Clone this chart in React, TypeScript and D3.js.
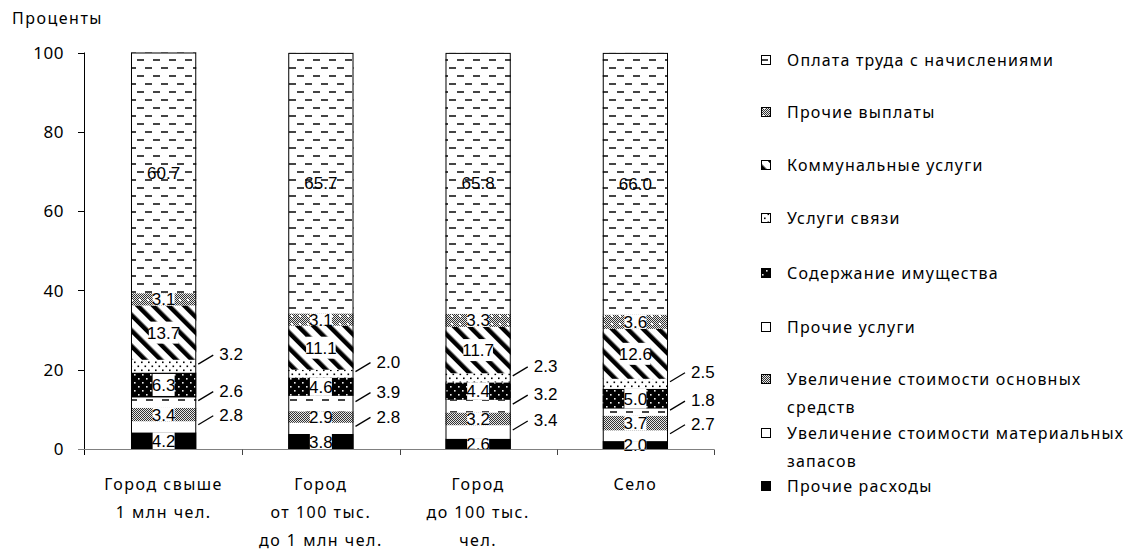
import React from "react";
import * as d3 from "d3";

const categories = ["c1", "c2", "c3", "c4"];
const categoryLines: string[][] = [
  ["Город свыше", "1 млн чел."],
  ["Город", "от 100 тыс.", "до 1 млн чел."],
  ["Город", "до 100 тыс.", "чел."],
  ["Село"],
];

// bottom to top
const seriesKeys = ["other", "materials", "fixed", "otherServ", "property", "comm", "utilities", "otherPay", "pay"];
const otherExp = [4.2, 3.8, 2.6, 2.0];
const materials = [2.8, 2.8, 3.4, 2.7];
const fixedAssets = [3.4, 2.9, 3.2, 3.7];
const otherServices = [2.6, 3.9, 3.2, 1.8];
const property = [6.3, 4.6, 4.4, 5.0];
const communication = [3.2, 2.0, 2.3, 2.5];
const utilities = [13.7, 11.1, 11.7, 12.6];
const otherPayments = [3.1, 3.1, 3.3, 3.6];
const wages = [60.7, 65.7, 65.8, 66.0];
const seriesValues = [otherExp, materials, fixedAssets, otherServices, property, communication, utilities, otherPayments, wages];

const legendOrder = ["pay", "otherPay", "utilities", "comm", "property", "otherServ", "fixed", "materials", "other"];
const legendLabels: Record<string, string[]> = {
  pay: ["Оплата труда с начислениями"],
  otherPay: ["Прочие выплаты"],
  utilities: ["Коммунальные услуги"],
  comm: ["Услуги связи"],
  property: ["Содержание имущества"],
  otherServ: ["Прочие услуги"],
  fixed: ["Увеличение стоимости основных", "средств"],
  materials: ["Увеличение стоимости материальных", "запасов"],
  other: ["Прочие расходы"],
};
const legendY = [60, 112, 165, 218, 273, 327, 379, 433, 486];

const yTicks = [0, 20, 40, 60, 80, 100];
const outsideKeys = ["materials", "otherServ", "comm"];
const noBoxKeys = ["pay"];

const W = 1127;
const H = 551;
const textFont = "'Noto Sans', 'DejaVu Sans', sans-serif";
const numFont = "'Liberation Sans Narrow', 'Arial Narrow', 'Liberation Sans', sans-serif";

const fillFor = (k: string) => {
  switch (k) {
    case "other": return "#000";
    case "materials": return "#fff";
    default: return `url(#p-${k})`;
  }
};

export default function App() {
  const x = d3.scaleBand<string>().domain(categories).range([85, 714]).paddingInner(0.585).paddingOuter(0.2925);
  const y = d3.scaleLinear().domain([0, 100]).range([449, 52.5]);
  const stack = d3.stack<number>().keys(seriesKeys.map((_, i) => String(i))).value((d, key) => seriesValues[+key][d]);
  const stacked = stack(categories.map((_, i) => i));
  const bw = x.bandwidth();

  const measure = (t: string) => t.length * 7.6 - 3.8;

  return (
    <svg width={W} height={H} style={{ display: "block", position: "absolute", left: 0, top: 0, background: "#fff" }}>
      <defs>
        <pattern id="checker" width={2} height={2} patternUnits="userSpaceOnUse">
          <rect width={2} height={2} fill="#e6e6e6" />
          <rect x={0} y={0} width={1} height={1} fill="#333" />
          <rect x={1} y={1} width={1} height={1} fill="#333" />
        </pattern>
        <pattern id="p-fixed" width={8} height={8} patternUnits="userSpaceOnUse">
          <rect width={8} height={8} fill="url(#checker)" />
        </pattern>
        <pattern id="p-otherPay" width={8} height={8} patternUnits="userSpaceOnUse">
          <rect width={8} height={8} fill="url(#checker)" />
          <rect x={3} y={3} width={2} height={2} fill="#fff" />
        </pattern>
        <pattern id="p-pay" width={16} height={16} patternUnits="userSpaceOnUse">
          <rect width={16} height={16} fill="#fff" />
          <rect x={1} y={3} width={7} height={2} fill="#444" />
          <rect x={9} y={11} width={7} height={2} fill="#444" />
        </pattern>
        <pattern id="p-otherServ" width={16} height={12} patternUnits="userSpaceOnUse">
          <rect width={16} height={12} fill="#fff" />
          <rect x={2} y={3} width={7} height={2} fill="#444" />
        </pattern>
        <pattern id="p-utilities" width={11} height={11} patternUnits="userSpaceOnUse" patternTransform="rotate(-45)">
          <rect width={11} height={11} fill="#fff" />
          <rect x={0} y={0} width={4.5} height={11} fill="#000" />
        </pattern>
        <pattern id="p-comm" width={7} height={8} patternUnits="userSpaceOnUse">
          <rect width={7} height={8} fill="#fff" />
          <rect x={1} y={1.5} width={1.6} height={1.6} fill="#000" />
          <rect x={4.5} y={5.5} width={1.6} height={1.6} fill="#000" />
        </pattern>
        <pattern id="p-property" width={8} height={8} patternUnits="userSpaceOnUse">
          <rect width={8} height={8} fill="#000" />
          <rect x={2} y={2} width={1.6} height={1.6} fill="#eee" />
          <rect x={6} y={6} width={1.6} height={1.6} fill="#eee" />
        </pattern>
      </defs>

      {/* Title */}
      <text x={12} y={24} fontFamily={textFont} fontSize={16} letterSpacing={1.5}>Проценты</text>

      {/* Bars */}
      {stacked.map((s, si) => {
        const key = seriesKeys[si];
        return (
          <g key={key}>
            {s.map((d, ci) => (
              <rect key={ci} x={x(categories[ci])!} y={y(d[1])} width={bw} height={y(d[0]) - y(d[1])} fill={fillFor(key)} />
            ))}
          </g>
        );
      })}
      {/* bar outlines */}
      {categories.map((c, ci) => {
        const top = stacked[stacked.length - 1][ci][1];
        return <rect key={c} x={x(c)! + 0.5} y={y(top) + 0.5} width={bw - 1} height={y(0) - y(top) - 0.5} fill="none" stroke="#000" strokeWidth={1} />;
      })}

      {/* Inside labels */}
      {stacked.map((s, si) => {
        const key = seriesKeys[si];
        if (outsideKeys.includes(key)) return null;
        return s.map((d, ci) => {
          const v = seriesValues[si][ci];
          const t = v.toFixed(1);
          const cx = x(categories[ci])! + bw / 2;
          const y0 = y(d[0]);
          const y1 = y(d[1]);
          const cy = (y0 + y1) / 2;
          const bh = Math.min(y0 - y1, 22);
          const tw = measure(t) + 3;
          return (
            <g key={`${key}-${ci}`}>
              {!noBoxKeys.includes(key) && (
                <rect x={cx - tw / 2} y={cy - bh / 2} width={tw} height={bh} fill="#fff" />
              )}
              <text x={cx} y={cy} dy="0.36em" textAnchor="middle" fontFamily={numFont} fontSize={17}>{t}</text>
            </g>
          );
        });
      })}

      {/* Outside labels */}
      {stacked.map((s, si) => {
        const key = seriesKeys[si];
        if (!outsideKeys.includes(key)) return null;
        return s.map((d, ci) => {
          const v = seriesValues[si][ci];
          const xr = x(categories[ci])! + bw + 2;
          const ys = (y(d[0]) + y(d[1])) / 2 - 2;
          return (
            <g key={`${key}-o-${ci}`}>
              <line x1={xr} y1={ys} x2={xr + 15} y2={ys - 9} stroke="#000" strokeWidth={1.3} />
              <text x={xr + 21} y={ys - 10} dy="0.36em" fontFamily={numFont} fontSize={17}>{v.toFixed(1)}</text>
            </g>
          );
        });
      })}

      {/* Y axis */}
      <line x1={84.5} x2={84.5} y1={52.5} y2={455} stroke="#000" strokeWidth={1} />
      {yTicks.map((t) => (
        <g key={t}>
          <line x1={78} x2={84.5} y1={Math.round(y(t)) + 0.5} y2={Math.round(y(t)) + 0.5} stroke="#000" />
          <text x={64} y={y(t)} dy="0.36em" textAnchor="end" fontFamily={textFont} fontSize={17} letterSpacing={0.5}>{t}</text>
        </g>
      ))}

      {/* X axis */}
      <line x1={78} x2={714} y1={449.5} y2={449.5} stroke="#808080" strokeWidth={1} />
      {categories.map((c) => {
        const xe = x(c)! + bw / 2 + x.step() / 2;
        return <line key={c} x1={Math.round(xe) + 0.5} x2={Math.round(xe) + 0.5} y1={449.5} y2={455} stroke="#444" />;
      })}
      {categories.map((c, ci) => (
        <text key={c} x={x(c)! + bw / 2} textAnchor="middle" fontFamily={textFont} fontSize={16} letterSpacing={1.5}>
          {categoryLines[ci].map((ln, li) => (
            <tspan key={li} x={x(c)! + bw / 2} y={490 + li * 28}>{ln}</tspan>
          ))}
        </text>
      ))}

      {/* Legend */}
      {legendOrder.map((k, i) => (
        <g key={k}>
          <rect x={761.5} y={legendY[i] - 4.5} width={9} height={9} fill={fillFor(k)} stroke="#000" strokeWidth={1} />
          <text fontFamily={textFont} fontSize={16} letterSpacing={1.2}>
            {legendLabels[k].map((ln, li) => (
              <tspan key={li} x={787} y={legendY[i] + 6 + li * 28}>{ln}</tspan>
            ))}
          </text>
        </g>
      ))}
    </svg>
  );
}
